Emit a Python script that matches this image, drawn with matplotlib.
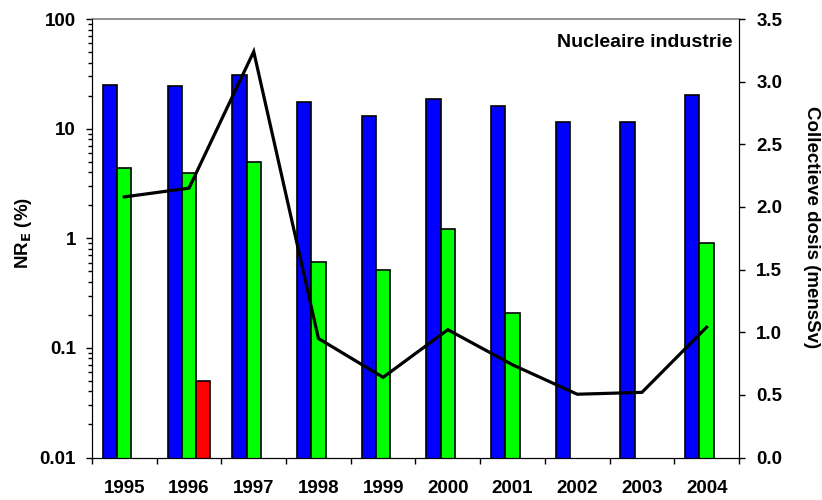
import numpy as np
import matplotlib
matplotlib.use('Agg')
import matplotlib.pyplot as plt
from matplotlib.ticker import FixedLocator, LogLocator, NullFormatter

plt.rcParams['font.family'] = ['Liberation Sans', 'DejaVu Sans']
plt.rcParams['font.weight'] = 'bold'

# Dane
jaren = ['1995', '1996', '1997', '1998', '1999', '2000', '2001', '2002', '2003', '2004']
nr_blauw = [24.9, 24.4, 30.9, 17.6, 13.1, 18.5, 16.0, 11.4, 11.5, 20.2]
nr_groen = [4.39, 3.93, 4.91, 0.607, 0.51, 1.21, 0.208, np.nan, np.nan, 0.91]
nr_rood = [np.nan, 0.0496, np.nan, np.nan, np.nan, np.nan, np.nan, np.nan, np.nan, np.nan]
coll_dosis = [2.08, 2.15, 3.24, 0.95, 0.64, 1.02, 0.74, 0.505, 0.52, 1.04]

FS = 13.5
pos = np.arange(len(jaren))
w = 0.221

fig = plt.figure(figsize=(8.22, 5.00), dpi=100)
ax = fig.add_axes([0.1119, 0.085, 0.899 - 0.1119, 0.962 - 0.085])
ax.set_yscale('log')

for dane, kolor, off in [(nr_blauw, '#0000ff', -w), (nr_groen, '#00ff00', 0.0), (nr_rood, '#ff0000', w)]:
    ax.bar(pos + off, dane, width=w, color=kolor, edgecolor='black', linewidth=1.2, zorder=2)

ax.set_ylim(0.01, 100)
ax.set_xlim(-0.5, len(jaren) - 0.5)
ax.yaxis.set_major_locator(FixedLocator([0.01, 0.1, 1, 10, 100]))
ax.set_yticklabels(['0.01', '0.1', '1', '10', '100'])
ax.yaxis.set_minor_locator(LogLocator(base=10, subs=np.arange(2, 10)))
ax.yaxis.set_minor_formatter(NullFormatter())
ax.tick_params(axis='y', which='major', direction='out', length=4.5, width=1, pad=7, labelsize=FS)
ax.tick_params(axis='y', which='minor', direction='out', length=3.2, width=1)

# osie X: kreski na granicach kategorii, etykiety na srodkach
ax.xaxis.set_major_locator(FixedLocator(np.arange(-0.5, len(jaren), 1.0)))
ax.xaxis.set_major_formatter(NullFormatter())
ax.xaxis.set_minor_locator(FixedLocator(pos))
ax.set_xticklabels(jaren, minor=True)
ax.tick_params(axis='x', which='major', direction='out', length=4.5, width=1)
ax.tick_params(axis='x', which='minor', length=0, pad=16.5, labelsize=FS)

ax.spines['top'].set_color('#808080')
ax.spines['top'].set_linewidth(1.2)

ax2 = ax.twinx()
ax2.plot(pos, coll_dosis, color='black', linewidth=2.3, zorder=5, solid_joinstyle='miter')
ax2.set_ylim(0, 3.5)
ax2.set_yticks(np.arange(0, 3.51, 0.5))
ax2.set_yticklabels([f'{v:.1f}' for v in np.arange(0, 3.51, 0.5)])
ax2.tick_params(axis='y', direction='out', length=4.5, width=1, pad=8, labelsize=FS)
ax2.spines['top'].set_visible(False)

# opisy osi jako tekst figury
fig.text(24 / 822, 1 - 233 / 500, 'NR$_\\mathbf{E}$ (%)', rotation=90,
         ha='center', va='center', fontsize=FS, fontweight='bold')
fig.text(811.5 / 822, 1 - 227 / 500, 'Collectieve dosis (mensSv)', rotation=270,
         ha='center', va='center', fontsize=FS, fontweight='bold')

ax.text(0.99, 0.965, 'Nucleaire industrie', transform=ax.transAxes,
        ha='right', va='top', fontsize=FS + 0.5, fontweight='bold')

fig.savefig('out.png', dpi=100)
plt.close(fig)
